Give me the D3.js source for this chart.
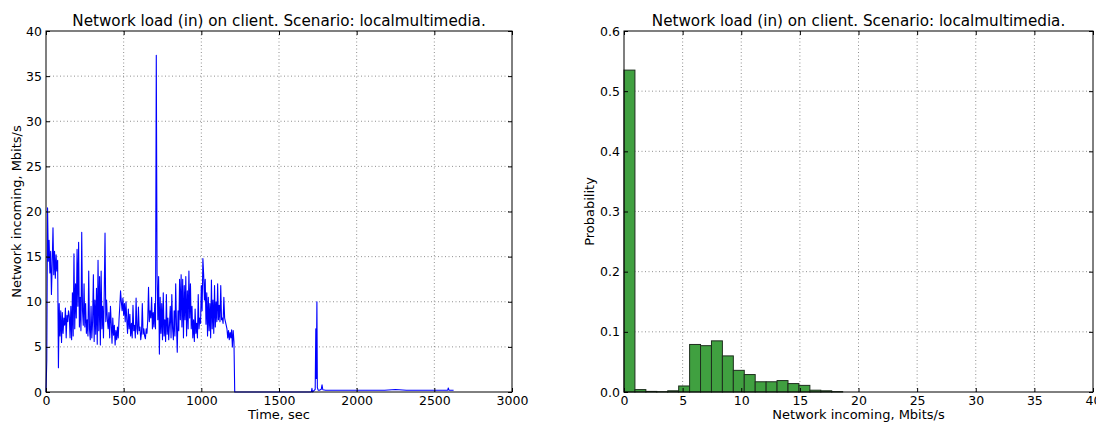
<!DOCTYPE html>
<html>
<head>
<meta charset="utf-8">
<script src="https://cdnjs.cloudflare.com/ajax/libs/d3/7.8.5/d3.min.js"></script>
<style>
  body { margin: 0; background: #fff; }
  text { font-family: "DejaVu Sans", sans-serif; fill: #000; }
</style>
</head>
<body>
<div id="chart"></div>
<script>
var titleText = "Network load (in) on client. Scenario: localmultimedia.";

// busy part of the trace, one reading every 5 s starting at t = 0
var sampleStep = 5;
var busyLoad = [
  0.0, 3.5, 20.4, 14.5, 16.8, 13.2, 15.6, 10.8, 14.2, 18.2,
  13.0, 15.6, 12.6, 15.2, 13.4, 14.6, 2.7, 9.8, 6.2, 9.0,
  5.5, 8.8, 6.5, 8.2, 7.4, 9.3, 6.0, 8.5, 7.8, 9.0,
  8.4, 6.0, 9.5, 5.8, 11.0, 6.2, 15.3, 7.0, 12.0, 8.2,
  15.8, 9.5, 16.6, 7.2, 10.5, 6.8, 17.7, 9.0, 7.4, 12.0,
  7.2, 9.8, 6.5, 8.0, 6.2, 13.4, 7.0, 5.8, 9.5, 6.0,
  7.8, 13.0, 5.6, 10.2, 6.4, 11.5, 5.3, 14.6, 6.8, 12.8,
  5.2, 13.4, 7.0, 9.5, 6.0, 11.0, 17.6, 7.8, 10.2, 8.0,
  7.0, 8.8, 6.0, 9.5, 7.6, 5.4, 8.2, 6.3, 7.4, 5.2,
  6.8, 5.8, 7.2, 6.0, 8.0, 9.5, 11.2, 10.0, 9.0, 10.4,
  8.5, 9.8, 7.8, 10.0, 8.0, 6.5, 9.2, 7.0, 8.6, 6.2,
  7.6, 6.0, 9.6, 6.8, 7.4, 6.0, 10.4, 7.0, 6.4, 9.4,
  6.8, 7.2, 5.8, 6.6, 9.8, 6.4, 7.0, 6.2, 5.9, 7.0,
  6.5, 8.0, 11.6, 7.8, 9.0, 8.2, 10.5, 7.0, 8.8, 7.2,
  9.8, 7.0, 37.3, 13.2, 8.0, 12.8, 4.2, 10.5, 6.5, 9.8,
  5.8, 11.0, 6.2, 8.0, 5.6, 10.8, 6.4, 8.2, 5.8, 7.5,
  9.5, 6.0, 10.8, 7.0, 5.8, 9.0, 6.2, 12.0, 7.4, 4.4,
  9.0, 6.8, 12.5, 8.0, 13.0, 7.2, 12.5, 6.0, 11.8, 8.0,
  12.8, 6.2, 11.2, 7.0, 13.4, 8.2, 12.0, 7.0, 9.5, 6.0,
  8.0, 5.6, 9.2, 6.5, 7.6, 6.0, 10.8, 7.0, 8.2, 7.6,
  11.8, 9.0, 14.8, 13.0, 10.2, 12.5, 7.5, 11.0, 6.2, 10.5,
  6.8, 9.8, 6.0, 12.4, 7.0, 10.2, 6.5, 11.8, 7.2, 10.0,
  7.8, 12.0, 8.0, 9.6, 7.8, 11.8, 8.0, 8.2, 7.6, 10.5,
  8.2, 7.8, 7.4, 7.0, 6.0, 6.8, 5.8, 6.6, 6.0, 6.9,
  5.0, 6.8, 5.6, 0.0
];

// quiet part of the trace, sparse (time, value) readings
var quietTimes = [1220, 1708, 1712, 1716, 1733, 1737, 1740, 1744, 1747, 1752, 1760, 1772, 1777, 1782, 1800, 2000, 2180, 2250, 2320, 2500, 2586, 2590, 2594, 2624];
var quietLoad  = [0.0, 0.0, 0.4, 0.0, 0.3, 7.0, 1.5, 10.0, 0.5, 0.2, 0.2, 0.3, 0.8, 0.25, 0.2, 0.2, 0.2, 0.28, 0.2, 0.2, 0.2, 0.45, 0.2, 0.2];

// histogram: 40 equal bins over 0 .. 37.3 Mbit/s
var histMax = 37.3;
var histProb = [
  0.535, 0.004, 0.001, 0.0005, 0.002, 0.010, 0.079, 0.077, 0.085, 0.060,
  0.036, 0.029, 0.017, 0.017, 0.019, 0.014, 0.011, 0.003, 0.002, 0.0006,
  0, 0, 0, 0, 0, 0, 0, 0, 0, 0,
  0, 0, 0, 0, 0, 0, 0, 0, 0, 0
];

var timeTicks = [0, 500, 1000, 1500, 2000, 2500, 3000];
var loadTicks = [0, 5, 10, 15, 20, 25, 30, 35, 40];
var mbitTicks = [0, 5, 10, 15, 20, 25, 30, 35, 40];
var probTicks = [0, 0.1, 0.2, 0.3, 0.4, 0.5, 0.6];

var series = busyLoad.map(function (v, i) { return {t: i * sampleStep, v: v}; })
  .concat(quietTimes.map(function (t, i) { return {t: t, v: quietLoad[i]}; }));

var binW = histMax / histProb.length;
var bins = histProb.map(function (p, i) { return {x0: i * binW, x1: (i + 1) * binW, p: p}; });

var svg = d3.select("#chart")
  .append("svg")
    .attr("width", 1096)
    .attr("height", 423);

svg.append("rect").attr("width", 1096).attr("height", 423).attr("fill", "#fff");

function panel(left, right, top, bottom, x, y, xt, yt, yfmt, xlab, ylab, ylabX) {
  var g = svg.append("g");
  x.range([left, right]);
  y.range([bottom, top]);

  // grid
  g.selectAll(".gx").data(xt.slice(1, -1)).enter().append("line")
    .attr("x1", function (d) { return x(d); }).attr("x2", function (d) { return x(d); })
    .attr("y1", top).attr("y2", bottom)
    .attr("stroke", "#444").attr("stroke-width", 0.6).attr("stroke-dasharray", "1,2.5");
  g.selectAll(".gy").data(yt.slice(1, -1)).enter().append("line")
    .attr("y1", function (d) { return y(d); }).attr("y2", function (d) { return y(d); })
    .attr("x1", left).attr("x2", right)
    .attr("stroke", "#444").attr("stroke-width", 0.6).attr("stroke-dasharray", "1,2.5");

  var marks = g.append("g");

  // axes with inward ticks on all sides
  g.append("g").attr("transform", "translate(0," + bottom + ")")
    .call(d3.axisBottom(x).tickValues(xt).tickSizeInner(-4).tickSizeOuter(0).tickPadding(4).tickFormat(d3.format("d")));
  g.append("g").attr("transform", "translate(0," + top + ")")
    .call(d3.axisTop(x).tickValues(xt).tickSizeInner(-4).tickSizeOuter(0).tickFormat(""));
  g.append("g").attr("transform", "translate(" + left + ",0)")
    .call(d3.axisLeft(y).tickValues(yt).tickSizeInner(-4).tickSizeOuter(0).tickPadding(4).tickFormat(yfmt));
  g.append("g").attr("transform", "translate(" + right + ",0)")
    .call(d3.axisRight(y).tickValues(yt).tickSizeInner(-4).tickSizeOuter(0).tickFormat(""));
  g.selectAll(".domain").remove();
  g.selectAll(".tick line").attr("stroke", "#000");
  g.selectAll(".tick text").style("font-size", "12.5px").style("font-family", "DejaVu Sans, sans-serif");

  g.append("rect")
    .attr("x", left).attr("y", top).attr("width", right - left).attr("height", bottom - top)
    .attr("fill", "none").attr("stroke", "#000").attr("stroke-width", 1);

  g.append("text").attr("x", (left + right) / 2).attr("y", 26)
    .attr("text-anchor", "middle").style("font-size", "15.2px").text(titleText);
  g.append("text").attr("x", (left + right) / 2).attr("y", 419)
    .attr("text-anchor", "middle").style("font-size", "13px").text(xlab);
  g.append("text")
    .attr("transform", "translate(" + ylabX + "," + (top + bottom) / 2 + ") rotate(-90)")
    .attr("text-anchor", "middle").style("font-size", "13px").text(ylab);
  return marks;
}

// left: time series
var x1 = d3.scaleLinear().domain([0, 3000]);
var y1 = d3.scaleLinear().domain([0, 40]);
var m1 = panel(46, 512, 31, 392, x1, y1, timeTicks, loadTicks, d3.format("d"),
  "Time, sec", "Network incoming, Mbits/s", 21);
m1.append("path")
  .datum(series)
  .attr("fill", "none")
  .attr("stroke", "#0000ff")
  .attr("stroke-width", 1.1)
  .attr("stroke-linejoin", "round")
  .attr("d", d3.line().x(function (d) { return x1(d.t); }).y(function (d) { return y1(d.v); }));

// right: histogram
var x2 = d3.scaleLinear().domain([0, 40]);
var y2 = d3.scaleLinear().domain([0, 0.6]);
var m2 = panel(624, 1093, 31, 392, x2, y2, mbitTicks, probTicks, d3.format(".1f"),
  "Network incoming, Mbits/s", "Probability", 594);
m2.selectAll("rect")
  .data(bins)
  .enter()
  .append("rect")
    .attr("x", function (d) { return x2(d.x0); })
    .attr("width", function (d) { return x2(d.x1) - x2(d.x0); })
    .attr("y", function (d) { return y2(d.p); })
    .attr("height", function (d) { return y2(0) - y2(d.p); })
    .attr("fill", "#40a040")
    .attr("stroke", "#1e2e1e")
    .attr("stroke-width", 1);
</script>
</body>
</html>
